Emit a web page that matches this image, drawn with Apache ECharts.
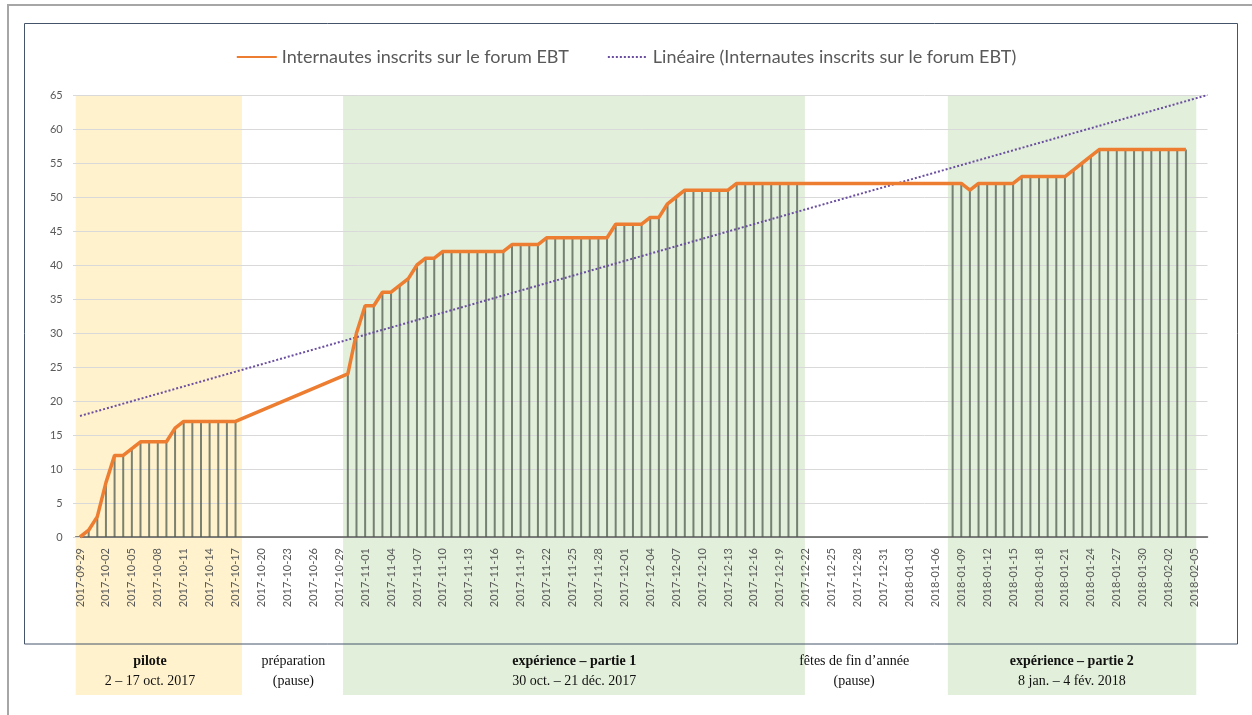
<!DOCTYPE html>
<html>
<head>
<meta charset="utf-8">
<script src="https://cdn.jsdelivr.net/npm/echarts@6/dist/echarts.min.js"></script>
<style>
  html, body { margin: 0; padding: 0; background: #fff; }
  #main { width: 1252px; height: 715px; }
</style>
</head>
<body>
<div id="main"></div>
<script>
// axe des dates (une catégorie par jour)
const dates = [
  '2017-09-29', '2017-09-30',
  '2017-10-01', '2017-10-02', '2017-10-03', '2017-10-04', '2017-10-05', '2017-10-06', '2017-10-07', '2017-10-08',
  '2017-10-09', '2017-10-10', '2017-10-11', '2017-10-12', '2017-10-13', '2017-10-14', '2017-10-15', '2017-10-16',
  '2017-10-17', '2017-10-18', '2017-10-19', '2017-10-20', '2017-10-21', '2017-10-22', '2017-10-23', '2017-10-24',
  '2017-10-25', '2017-10-26', '2017-10-27', '2017-10-28', '2017-10-29', '2017-10-30', '2017-10-31',
  '2017-11-01', '2017-11-02', '2017-11-03', '2017-11-04', '2017-11-05', '2017-11-06', '2017-11-07', '2017-11-08',
  '2017-11-09', '2017-11-10', '2017-11-11', '2017-11-12', '2017-11-13', '2017-11-14', '2017-11-15', '2017-11-16',
  '2017-11-17', '2017-11-18', '2017-11-19', '2017-11-20', '2017-11-21', '2017-11-22', '2017-11-23', '2017-11-24',
  '2017-11-25', '2017-11-26', '2017-11-27', '2017-11-28', '2017-11-29', '2017-11-30',
  '2017-12-01', '2017-12-02', '2017-12-03', '2017-12-04', '2017-12-05', '2017-12-06', '2017-12-07', '2017-12-08',
  '2017-12-09', '2017-12-10', '2017-12-11', '2017-12-12', '2017-12-13', '2017-12-14', '2017-12-15', '2017-12-16',
  '2017-12-17', '2017-12-18', '2017-12-19', '2017-12-20', '2017-12-21', '2017-12-22', '2017-12-23', '2017-12-24',
  '2017-12-25', '2017-12-26', '2017-12-27', '2017-12-28', '2017-12-29', '2017-12-30', '2017-12-31',
  '2018-01-01', '2018-01-02', '2018-01-03', '2018-01-04', '2018-01-05', '2018-01-06', '2018-01-07', '2018-01-08',
  '2018-01-09', '2018-01-10', '2018-01-11', '2018-01-12', '2018-01-13', '2018-01-14', '2018-01-15', '2018-01-16',
  '2018-01-17', '2018-01-18', '2018-01-19', '2018-01-20', '2018-01-21', '2018-01-22', '2018-01-23', '2018-01-24',
  '2018-01-25', '2018-01-26', '2018-01-27', '2018-01-28', '2018-01-29', '2018-01-30', '2018-01-31',
  '2018-02-01', '2018-02-02', '2018-02-03', '2018-02-04', '2018-02-05', '2018-02-06'
]

// internautes inscrits (null = pas de relevé)
const inscrits = [
  0, 1,                                                        // sept.
  3, 8, 12, 12, 13, 14, 14, 14, 14, 16, 17, 17, 17, 17, 17, 17, 17,   // 1-17 oct.
  null, null, null, null, null, null, null, null, null, null, null, null, // 18-29 oct.
  24, 30,                                                      // 30-31 oct.
  34, 34, 36, 36, 37, 38, 40, 41, 41, 42, 42, 42, 42, 42, 42, 42, 42,   // 1-17 nov.
  43, 43, 43, 43, 44, 44, 44, 44, 44, 44, 44, 44, 46,          // 18-30 nov.
  46, 46, 46, 47, 47, 49, 50, 51, 51, 51, 51, 51, 51,          // 1-13 déc.
  52, 52, 52, 52, 52, 52, 52, 52,                              // 14-21 déc.
  null, null, null, null, null, null, null, null, null, null,  // 22-31 déc.
  null, null, null, null, null, null, null,                    // 1-7 janv.
  52, 52, 51, 52, 52, 52, 52, 52, 53, 53, 53, 53, 53, 53,      // 8-21 janv.
  54, 55, 56, 57, 57, 57, 57, 57, 57, 57,                      // 22-31 janv.
  57, 57, 57, 57, null, null                                   // 1-6 févr.
]

// courbe de tendance linéaire (position jour, valeur)
const trendX = [0, 130.5]
const trendY = [17.8, 65]

// périodes (en jours depuis le 29 sept.)
const periodStart = [-0.5, 30.45, 100.45]
const periodEnd = [18.75, 83.9, 129.2]
const periodColor = ['#FFF2CC', '#E2EFDA', '#E2EFDA']

// légendes sous le graphique
const captionPos = [8.1, 24.7, 57.2, 89.6, 114.8]
const captionTitle = ['pilote', 'préparation', 'expérience – partie 1', 'fêtes de fin d’année', 'expérience – partie 2']
const captionSub = ['2 – 17 oct. 2017', '(pause)', '30 oct. – 21 déc. 2017', '(pause)', '8 jan. – 4 fév. 2018']
const captionBold = [true, false, true, false, true]

const serieName = 'Internautes inscrits sur le forum EBT'
const trendName = 'Linéaire (Internautes inscrits sur le forum EBT)'

const chart = echarts.init(document.getElementById('main'))

const option = {
  backgroundColor: '#fff',
  animation: false,
  legend: {
    data: [serieName, trendName],
    left: 'center',
    top: 43,
    itemWidth: 40,
    itemHeight: 12,
    itemGap: 38,
    itemStyle: { opacity: 0 },
    textStyle: { fontFamily: 'Lato', fontSize: 18, color: '#595959' }
  },
  grid: { left: 75.7, right: 44.5, top: 95, bottom: 178 },
  xAxis: [{
    type: 'category',
    data: dates,
    boundaryGap: true,
    axisLine: { lineStyle: { color: '#595959', width: 1.5 } },
    axisTick: { show: false },
    axisLabel: {
      interval: 2,
      rotate: 90,
      margin: 11,
      fontFamily: 'Lato',
      fontSize: 11,
      color: '#595959'
    },
    splitLine: { show: false }
  }, {
    type: 'value',
    min: -0.5,
    max: 130.5,
    show: false
  }],
  yAxis: {
    type: 'value',
    min: 0,
    max: 65,
    interval: 5,
    axisLine: { show: false },
    axisTick: { show: true, length: 7, lineStyle: { color: '#d9d9d9' } },
    axisLabel: { margin: 13, fontFamily: 'Lato', fontSize: 11, color: '#595959' },
    splitLine: { lineStyle: { color: '#d9d9d9', width: 1 } }
  },
  series: [{
    name: 'lignes de projection',
    type: 'bar',
    data: inscrits,
    barWidth: 2,
    itemStyle: { color: '#4f5b4f', opacity: 0.75 },
    z: 2
  }, {
    name: serieName,
    type: 'line',
    data: inscrits,
    connectNulls: true,
    symbol: 'none',
    lineStyle: { color: '#ED7D31', width: 3.5 },
    itemStyle: { color: '#ED7D31' },
    z: 4
  }, {
    name: trendName,
    type: 'line',
    xAxisIndex: 1,
    data: trendX.map((x, i) => [x, trendY[i]]),
    symbol: 'none',
    lineStyle: { color: '#6a4ea0', width: 2, type: 'dotted' },
    itemStyle: { color: '#6a4ea0' },
    z: 3
  }]
}

chart.setOption(option)

// bandes de couleur et textes, positionnés par l'axe des jours
const yTop = chart.convertToPixel({ yAxisIndex: 0 }, 65)
const bandBottom = 695
const graphics = []
periodStart.forEach((s, i) => {
  const x1 = chart.convertToPixel({ xAxisIndex: 1 }, s)
  const x2 = chart.convertToPixel({ xAxisIndex: 1 }, periodEnd[i])
  graphics.push({
    type: 'rect',
    silent: true,
    z: -10,
    shape: { x: x1, y: yTop, width: x2 - x1, height: bandBottom - yTop },
    style: { fill: periodColor[i] }
  })
})
captionPos.forEach((p, i) => {
  const cx = chart.convertToPixel({ xAxisIndex: 1 }, p)
  graphics.push({
    type: 'text',
    silent: true,
    z: 50,
    style: {
      text: captionTitle[i],
      x: cx, y: 661,
      textAlign: 'center', textVerticalAlign: 'middle',
      font: (captionBold[i] ? 'bold ' : '') + '14px "Liberation Serif"',
      fill: '#111'
    }
  })
  graphics.push({
    type: 'text',
    silent: true,
    z: 50,
    style: {
      text: captionSub[i],
      x: cx, y: 681,
      textAlign: 'center', textVerticalAlign: 'middle',
      font: '14px "Liberation Serif"',
      fill: '#111'
    }
  })
})
// cadres
graphics.push({
  type: 'rect', silent: true, z: 100,
  shape: { x: 24.5, y: 23.5, width: 1213, height: 620.5 },
  style: { fill: 'none', stroke: '#44546a', lineWidth: 1 }
})
graphics.push({
  type: 'rect', silent: true, z: 100,
  shape: { x: 8, y: 5, width: 1260, height: 730 },
  style: { fill: 'none', stroke: '#a6a6a6', lineWidth: 2 }
})
chart.setOption({ graphic: graphics })
</script>
</body>
</html>
